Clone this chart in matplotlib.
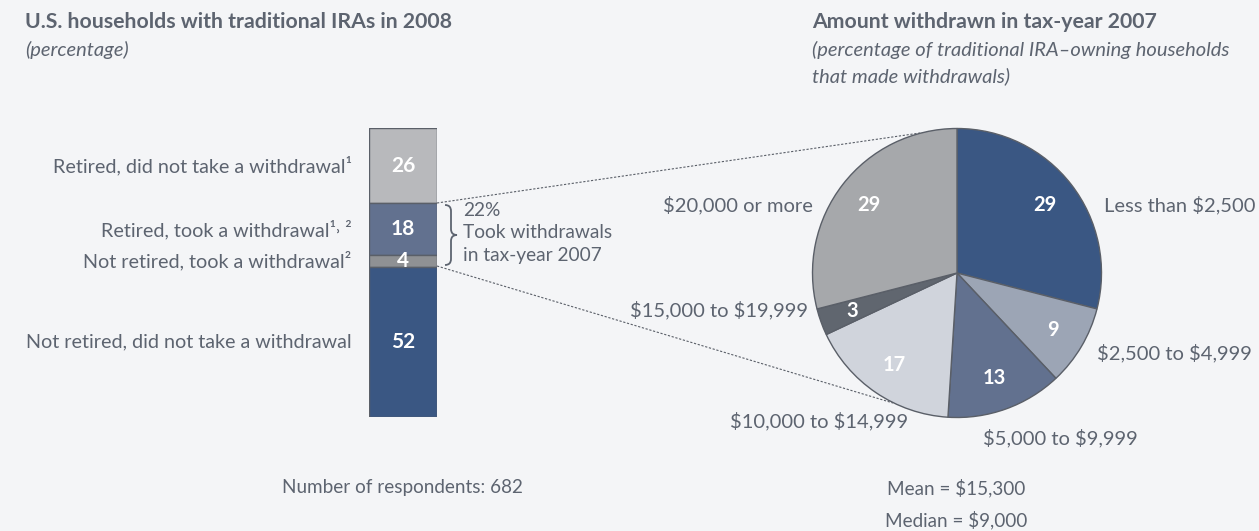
import numpy as np
import matplotlib
matplotlib.use("Agg")
from matplotlib import pyplot as plt
from matplotlib.lines import Line2D
from matplotlib.path import Path
from matplotlib.patches import PathPatch

plt.rcParams['font.family'] = ['Lato', 'DejaVu Sans']
plt.rcParams['text.parse_math'] = False

# bar data (percent of households)
bar_labels = ['Retired, did not take a withdrawal\u00b9',
              'Retired, took a withdrawal\u00b9\u02d2 \u00b2',
              'Not retired, took a withdrawal\u00b2',
              'Not retired, did not take a withdrawal']
bar_values = [26, 18, 4, 52]
bar_colors = ['#b8b9bc', '#62718f', '#8f9194', '#3a5783']

# pie data (percent of withdrawing households)
pie_labels = ['Less than $2,500', '$2,500 to $4,999', '$5,000 to $9,999',
              '$10,000 to $14,999', '$15,000 to $19,999', '$20,000 or more']
pie_values = [29, 9, 13, 17, 3, 29]
pie_colors = ['#3a5783', '#9ca5b5', '#62718f', '#d0d4dc', '#60666f', '#a6a8ab']

W, H = 1259, 531
BG = '#f4f5f7'
TXT = '#5d6470'
EDGE = '#5a5f68'

fig = plt.figure(figsize=(W / 100, H / 100), dpi=100, facecolor=BG)
renderer = fig.canvas.get_renderer()


def px(x, y):
    return x / W, 1 - y / H


def ax_box(x0, y0, x1, y1):
    return [x0 / W, 1 - y1 / H, (x1 - x0) / W, (y1 - y0) / H]


def size_for(s, target, **kw):
    # font size that makes string s about target pixels wide
    t = fig.text(0, 0, s, fontsize=10, **kw)
    w = t.get_window_extent(renderer=renderer).width
    t.remove()
    return 10 * target / w


fs_title = size_for('U.S. households with traditional IRAs in 2008', 428, fontweight='bold')
fs_sub = size_for('(percentage of traditional IRA\u2013owning households', 418, style='italic')
fs_lab = size_for('Not retired, did not take a withdrawal', 327)
fs_pie = size_for('$20,000 or more', 150)
fs_note = size_for('Took withdrawals', 150)
fs_foot = size_for('Mean = $15,300', 138)

# titles
fig.text(*px(25, 22), 'U.S. households with traditional IRAs in 2008', fontsize=fs_title,
         fontweight='bold', color=TXT, va='center')
fig.text(*px(25, 50), '(percentage)', fontsize=fs_sub, style='italic', color=TXT, va='center')
fig.text(*px(812, 22), 'Amount withdrawn in tax-year 2007', fontsize=fs_title,
         fontweight='bold', color=TXT, va='center')
fig.text(*px(812, 50), '(percentage of traditional IRA\u2013owning households', fontsize=fs_sub,
         style='italic', color=TXT, va='center')
fig.text(*px(812, 76), 'that made withdrawals)', fontsize=fs_sub, style='italic', color=TXT,
         va='center')

# stacked bar
axb = fig.add_axes(ax_box(369, 128, 437, 417))
axb.set_xlim(0, 1)
axb.set_ylim(100, 0)
axb.axis('off')
bottoms = np.cumsum([0] + bar_values[:-1])
axb.bar([0.5] * 4, bar_values, bottom=bottoms, width=1, color=bar_colors,
        edgecolor=EDGE, linewidth=1)
for lab, v, b in zip(bar_labels, bar_values, bottoms):
    mid = b + v / 2
    axb.text(0.5, mid, str(v), ha='center', va='center', color='white',
             fontsize=15, fontweight='bold')
    axb.annotate(lab, (0, mid), xytext=(-12.5, 0), textcoords='offset points',
                 ha='right', va='center', fontsize=fs_lab, color=TXT)

# brace and note
bx, bm, bt, bb, bw = 445, 451, 205, 265, 457
ym = (bt + bb) / 2
pts = [(bx, bt), (bm, bt), (bm, bt + 6), (bm, ym - 6), (bm, ym), (bw, ym),
       (bm, ym), (bm, ym + 6), (bm, bb - 6), (bm, bb), (bx, bb)]
codes = [Path.MOVETO, Path.CURVE3, Path.CURVE3, Path.LINETO, Path.CURVE3, Path.CURVE3,
         Path.CURVE3, Path.CURVE3, Path.LINETO, Path.CURVE3, Path.CURVE3]
fig.add_artist(PathPatch(Path([px(*p) for p in pts], codes), transform=fig.transFigure,
                         fill=False, edgecolor=TXT, linewidth=1.3))
fig.text(*px(463, 211), '22%', fontsize=fs_note, color=TXT, va='center')
fig.text(*px(463, 233), 'Took withdrawals', fontsize=fs_note, color=TXT, va='center')
fig.text(*px(463, 256), 'in tax-year 2007', fontsize=fs_note, color=TXT, va='center')

# connector lines
for (x0, y0), (x1, y1) in [((437, 203), (920, 133)), ((437, 266), (893, 403))]:
    (fx0, fy0), (fx1, fy1) = px(x0, y0), px(x1, y1)
    fig.add_artist(Line2D([fx0, fx1], [fy0, fy1], transform=fig.transFigure,
                          color=EDGE, linewidth=0.8, linestyle=(0, (2, 1.5))))

# pie
cx, cy, r = 957, 273, 144.5
axp = fig.add_axes(ax_box(cx - r, cy - r, cx + r, cy + r))
wedges, texts, autotexts = axp.pie(
    pie_values, colors=pie_colors, startangle=90, counterclock=False,
    autopct=lambda p: '%d' % round(p), pctdistance=0.77,
    wedgeprops=dict(edgecolor=EDGE, linewidth=1),
    textprops=dict(color='white', fontsize=14.5, fontweight='bold'))
axp.set_aspect('auto')
axp.set_xlim(-1, 1)
axp.set_ylim(-1, 1)
axp.axis('off')

label_pos = [(1104, 205, 'left'), (1097, 353, 'left'), (983, 438, 'left'),
             (908, 421, 'right'), (808, 310, 'right'), (813, 205, 'right')]
for lab, (x, y, ha) in zip(pie_labels, label_pos):
    fig.text(*px(x, y), lab, fontsize=fs_pie, color=TXT, ha=ha, va='center')

# footer
fig.text(*px(402, 488), 'Number of respondents: 682', fontsize=fs_foot, color=TXT,
         ha='center', va='center')
fig.text(*px(956, 488), 'Mean = $15,300', fontsize=fs_foot, color=TXT, ha='center', va='center')
fig.text(*px(956, 520), 'Median = $9,000', fontsize=fs_foot, color=TXT, ha='center', va='center')

fig.savefig('out.png', dpi=100, facecolor=BG)
